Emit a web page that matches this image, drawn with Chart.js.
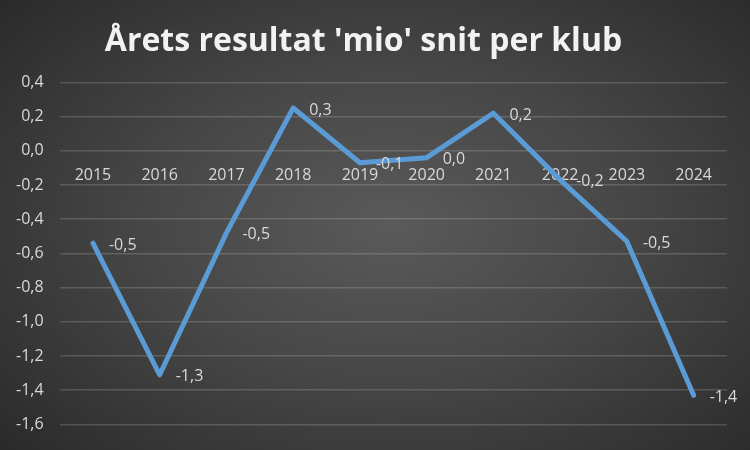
<!DOCTYPE html>
<html>
<head>
<meta charset="utf-8">
<script src="https://cdn.jsdelivr.net/npm/chart.js@4"></script>
<style>
  html, body { margin: 0; padding: 0; }
  body {
    width: 750px; height: 450px; overflow: hidden;
    background: radial-gradient(ellipse 70% 75% at 52% 50%, #5a5a5a 0%, #474747 45%, #2a2a2a 100%);
  }
  #wrap { width: 750px; height: 450px; position: relative; }
</style>
</head>
<body>
<div id="wrap"><canvas id="c"></canvas></div>
<script>
const years = ['2015', '2016', '2017', '2018', '2019', '2020', '2021', '2022', '2023', '2024'];
const results = [-0.54, -1.31, -0.48, 0.25, -0.07, -0.04, 0.22, -0.17, -0.53, -1.43];

const fmt = v => {
  let s = v.toFixed(1);
  if (s === '-0.0') s = '0.0';
  return s.replace('.', ',');
};

const valueLabels = {
  id: 'valueLabels',
  afterDatasetsDraw(chart) {
    const ctx = chart.ctx;
    const meta = chart.getDatasetMeta(0);
    ctx.save();
    ctx.font = '16px "Open Sans", sans-serif';
    ctx.fillStyle = '#d9d9d9';
    ctx.textAlign = 'left';
    ctx.textBaseline = 'middle';
    meta.data.forEach((pt, i) => {
      ctx.fillText(fmt(results[i]), pt.x + 16, pt.y + 2);
    });
    ctx.restore();
  }
};

new Chart(document.getElementById('c'), {
  type: 'line',
  data: {
    labels: years,
    datasets: [{
      data: results,
      borderColor: '#5b9bd5',
      borderWidth: 5,
      pointRadius: 0,
      tension: 0,
      borderJoinStyle: 'round',
      borderCapStyle: 'round'
    }]
  },
  options: {
    responsive: true,
    maintainAspectRatio: false,
    animation: false,
    layout: { padding: { left: 0, right: 23, top: 4, bottom: 2 } },
    plugins: {
      legend: { display: false },
      tooltip: { enabled: false },
      title: {
        display: true,
        text: "Årets resultat 'mio' snit per klub",
        color: '#f2f2f2',
        font: { family: '"Open Sans", sans-serif', size: 32, weight: 'bold' },
        padding: { top: 19, bottom: 21 }
      }
    },
    scales: {
      x: {
        position: { y: 0 },
        offset: true,
        grid: { display: false, drawTicks: false, offset: true },
        border: { display: false },
        ticks: {
          color: '#d9d9d9',
          font: { family: '"Open Sans", sans-serif', size: 16 },
          padding: 15,
          maxRotation: 0
        }
      },
      y: {
        min: -1.6,
        max: 0.4,
        grid: { color: 'rgba(255,255,255,0.16)', lineWidth: 1.5, drawTicks: false },
        border: { display: false },
        ticks: {
          stepSize: 0.2,
          color: '#d9d9d9',
          font: { family: '"Open Sans", sans-serif', size: 16 },
          padding: 16,
          callback: v => fmt(v)
        }
      }
    }
  },
  plugins: [valueLabels]
});
</script>
</body>
</html>
